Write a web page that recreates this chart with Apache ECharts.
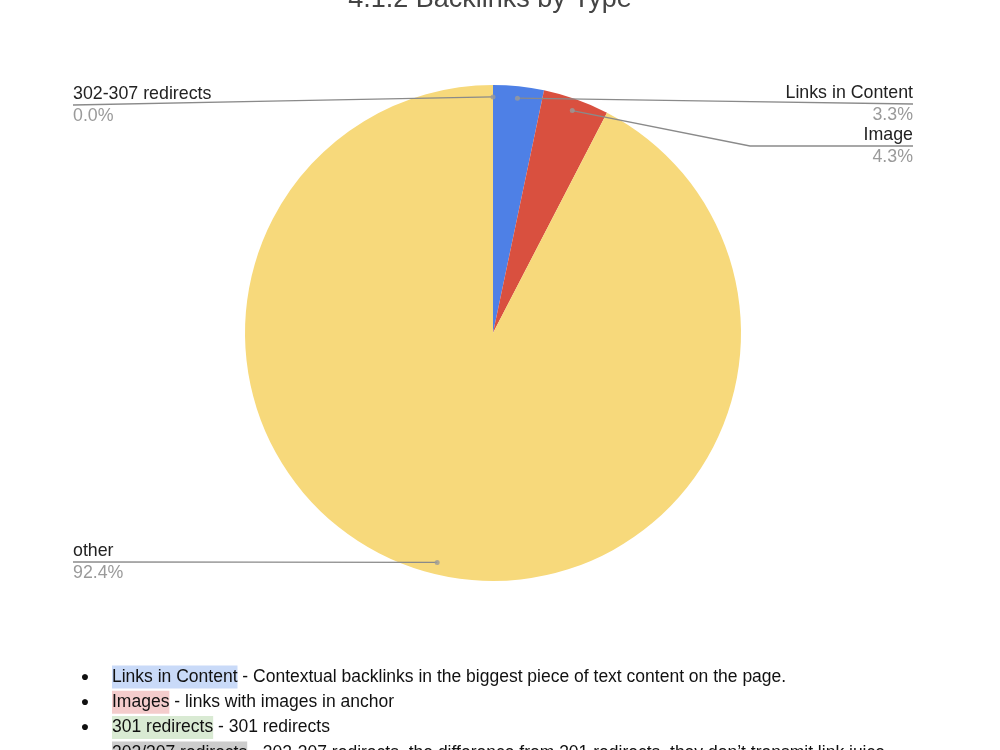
<!DOCTYPE html>
<html>
<head>
<meta charset="utf-8">
<script src="https://cdn.jsdelivr.net/npm/echarts@6/dist/echarts.min.js"></script>
<style>
  html, body { margin: 0; padding: 0; background: #fff; }
  #chart { width: 1000px; height: 750px; }
</style>
</head>
<body>
<div id="chart"></div>
<script>
// ---- data ----
const titleText = '4.1.2 Backlinks by Type';
const categories = ['302-307 redirects', 'Links in Content', 'Image', 'other'];
const shares = [0.0, 3.3, 4.3, 92.4];
const colors = ['#9aa0a6', '#4e80e6', '#d9503f', '#f7d97b'];
const noteTerms = ['Links in Content', 'Images', '301 redirects', '302/307 redirects'];
const noteTexts = [
  ' - Contextual backlinks in the biggest piece of text content on the page.',
  ' - links with images in anchor',
  ' - 301 redirects',
  ' - 302-307 redirects, the difference from 301 redirects, they don\u2019t transmit link juice'
];
const noteHighlights = ['#c9daf8', '#f4cccc', '#d9ead3', '#cccccc'];

// ---- layout ----
const FONTFAM = '"Liberation Sans", Arial, Helvetica, sans-serif';
const CX = 493, CY = 333, R = 248, DOT = 0.952;
const labelPlaces = [
  { align: 'left',  x: 73,  y: 105, bend: null },
  { align: 'right', x: 913, y: 104, bend: null },
  { align: 'right', x: 913, y: 146, bend: 750 },
  { align: 'left',  x: 73,  y: 562, bend: null }
];

const total = shares.reduce((a, b) => a + b, 0);
const mids = [];
let acc = 0;
shares.forEach(v => { mids.push(acc + v / 2); acc += v; });

const chart = echarts.init(document.getElementById('chart'), null, { renderer: 'canvas' });

const graphics = [{
  type: 'text', x: 490, y: -14,
  style: { text: titleText, fontSize: 27, fontFamily: FONTFAM, fill: '#444', align: 'center', verticalAlign: 'top' }
}];
noteTerms.forEach((t, i) => {
  const y = 677 + i * 25.3;
  graphics.push({
    type: 'text', x: 85, y: y,
    style: { text: '\u25CF', fontSize: 14, fontFamily: FONTFAM, fill: '#111', align: 'center', verticalAlign: 'middle' }
  });
  graphics.push({
    type: 'text', x: 112, y: y,
    style: {
      text: '{h|' + t + '}{t|' + noteTexts[i] + '}',
      verticalAlign: 'middle',
      rich: {
        h: { fontSize: 17.5, fontFamily: FONTFAM, fill: '#111', backgroundColor: noteHighlights[i], lineHeight: 23, height: 23 },
        t: { fontSize: 17.5, fontFamily: FONTFAM, fill: '#111', lineHeight: 23 }
      }
    }
  });
});

const pieBase = {
  type: 'pie',
  center: [CX, CY],
  radius: R,
  startAngle: 90,
  clockwise: true,
  avoidLabelOverlap: false,
  silent: true,
  emphasis: { disabled: true },
  animation: false
};

chart.setOption({
  animation: false,
  backgroundColor: '#ffffff',
  polar: { center: [CX, CY], radius: R },
  angleAxis: { type: 'value', min: 0, max: total, startAngle: 90, clockwise: true, show: false },
  radiusAxis: { type: 'value', min: 0, max: 1, show: false },
  graphic: graphics,
  series: [
    Object.assign({}, pieBase, {
      z: 2,
      data: categories.map((c, i) => ({ name: c, value: shares[i], itemStyle: { color: colors[i] } })),
      itemStyle: { borderWidth: 0 },
      label: { show: false },
      labelLine: { show: false }
    }),
    Object.assign({}, pieBase, {
      z: 4,
      data: categories.map((c, i) => ({ name: c, value: shares[i] })),
      itemStyle: { color: 'rgba(0,0,0,0)', borderWidth: 0 },
      label: {
        show: true,
        position: 'outside',
        formatter: p => '{n|' + p.name + '}\n{p|' + shares[p.dataIndex].toFixed(1) + '%}',
        rich: {
          n: { fontSize: 17.8, fontFamily: FONTFAM, color: '#222', lineHeight: 22 },
          p: { fontSize: 17.8, fontFamily: FONTFAM, color: '#9a9a9a', lineHeight: 22 }
        }
      },
      labelLine: { show: true, showAbove: true, lineStyle: { color: '#8a8a8a', width: 1.3 } },
      labelLayout: function (params) {
        const pl = labelPlaces[params.dataIndex];
        const p0 = params.labelLinePoints ? params.labelLinePoints[0] : [CX, CY - R];
        const d = [CX + (p0[0] - CX) * DOT, CY + (p0[1] - CY) * DOT];
        const pts = pl.bend != null
          ? [d, [pl.bend, pl.y], [pl.x, pl.y]]
          : [d, [(d[0] + pl.x) / 2, (d[1] + pl.y) / 2], [pl.x, pl.y]];
        return { x: pl.x, y: pl.y, align: pl.align, verticalAlign: 'middle', labelLinePoints: pts };
      }
    }),
    {
      type: 'scatter',
      coordinateSystem: 'polar',
      silent: true,
      z: 6,
      symbol: 'circle',
      symbolSize: 5,
      itemStyle: { color: '#9a9a9a' },
      data: mids.map(m => [DOT, m])
    }
  ]
});
</script>
</body>
</html>
